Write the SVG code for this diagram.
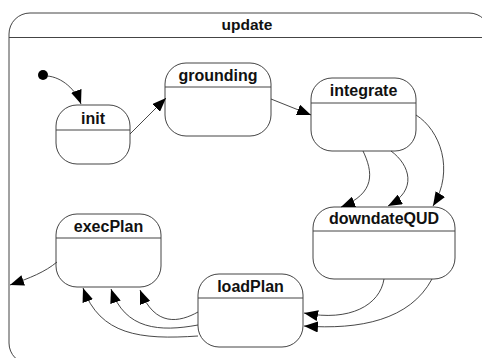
<svg xmlns="http://www.w3.org/2000/svg" width="482" height="358" viewBox="0 0 482 358">
  <style>
    .frame { fill: #ffffff; stroke: #444444; stroke-width: 1; }
    .state { fill: #ffffff; stroke: #444444; stroke-width: 1; }
    .sep { stroke: #444444; stroke-width: 1; }
    .label { font-family: "Liberation Sans", Arial, sans-serif; font-weight: bold; font-size: 16px; fill: #111111; text-anchor: middle; }
    .title { font-size: 15.5px; }
    .edge { fill: none; stroke: #333333; stroke-width: 0.9; marker-end: url(#arrow); }
  </style>
  <defs>
    <marker id="arrow" viewBox="0 0 14 11" refX="14" refY="5.5" markerWidth="14" markerHeight="11" markerUnits="userSpaceOnUse" orient="auto">
      <path d="M0,0 L14,5.5 L0,11 z" fill="#000000"/>
    </marker>
  </defs>

  <!-- composite state: update -->
  <g id="update">
    <rect class="frame" x="9" y="13" width="481" height="351" rx="21" ry="21"/>
    <line class="sep" x1="9" y1="37.5" x2="490" y2="37.5"/>
    <text class="label title" x="247" y="30">update</text>
  </g>

  <!-- initial pseudo-state -->
  <g id="start">
    <circle cx="43" cy="75" r="5" fill="#000000"/>
  </g>

  <g id="init">
    <rect class="state" x="56" y="105" width="74" height="59" rx="21" ry="21"/>
    <line class="sep" x1="56" y1="130" x2="130" y2="130"/>
    <text class="label" x="93" y="124">init</text>
  </g>

  <g id="grounding">
    <rect class="state" x="165" y="63" width="106" height="73" rx="21" ry="21"/>
    <line class="sep" x1="165" y1="87" x2="271" y2="87"/>
    <text class="label" x="218" y="81">grounding</text>
  </g>

  <g id="integrate">
    <rect class="state" x="311" y="78" width="105" height="73" rx="21" ry="21"/>
    <line class="sep" x1="311" y1="103" x2="416" y2="103"/>
    <text class="label" x="363.5" y="96">integrate</text>
  </g>

  <g id="downdateQUD">
    <rect class="state" x="313" y="207" width="142" height="72" rx="21" ry="21"/>
    <line class="sep" x1="313" y1="231" x2="455" y2="231"/>
    <text class="label" x="384" y="224">downdateQUD</text>
  </g>

  <g id="execPlan">
    <rect class="state" x="56" y="214" width="105" height="73" rx="21" ry="21"/>
    <line class="sep" x1="56" y1="238" x2="161" y2="238"/>
    <text class="label" x="108.5" y="232">execPlan</text>
  </g>

  <g id="loadPlan">
    <rect class="state" x="198" y="274" width="105" height="73" rx="21" ry="21"/>
    <line class="sep" x1="198" y1="298" x2="303" y2="298"/>
    <text class="label" x="250.5" y="292">loadPlan</text>
  </g>

  <!-- transitions -->
  <g id="transitions">
    <path class="edge" d="M47,76 C62,77 76,90 81,104"/>
    <path class="edge" d="M130,134 L166,98"/>
    <path class="edge" d="M271,99 L311,115"/>
    <path class="edge" d="M363,151 C373,172 376,193 341,207"/>
    <path class="edge" d="M391,151 C410,165 418,190 388,206"/>
    <path class="edge" d="M416,115 C440,130 455,170 433,206"/>
    <path class="edge" d="M384,279 C380,305 350,322 304,313"/>
    <path class="edge" d="M432,279 C410,320 360,330 304,326"/>
    <path class="edge" d="M198,312 C180,322 155,328 140,290"/>
    <path class="edge" d="M198,325 C160,332 125,330 111,289"/>
    <path class="edge" d="M198,336 C140,340 100,335 83,288"/>
    <path class="edge" d="M57,262 C45,272 30,278 10,285"/>
  </g>
</svg>
